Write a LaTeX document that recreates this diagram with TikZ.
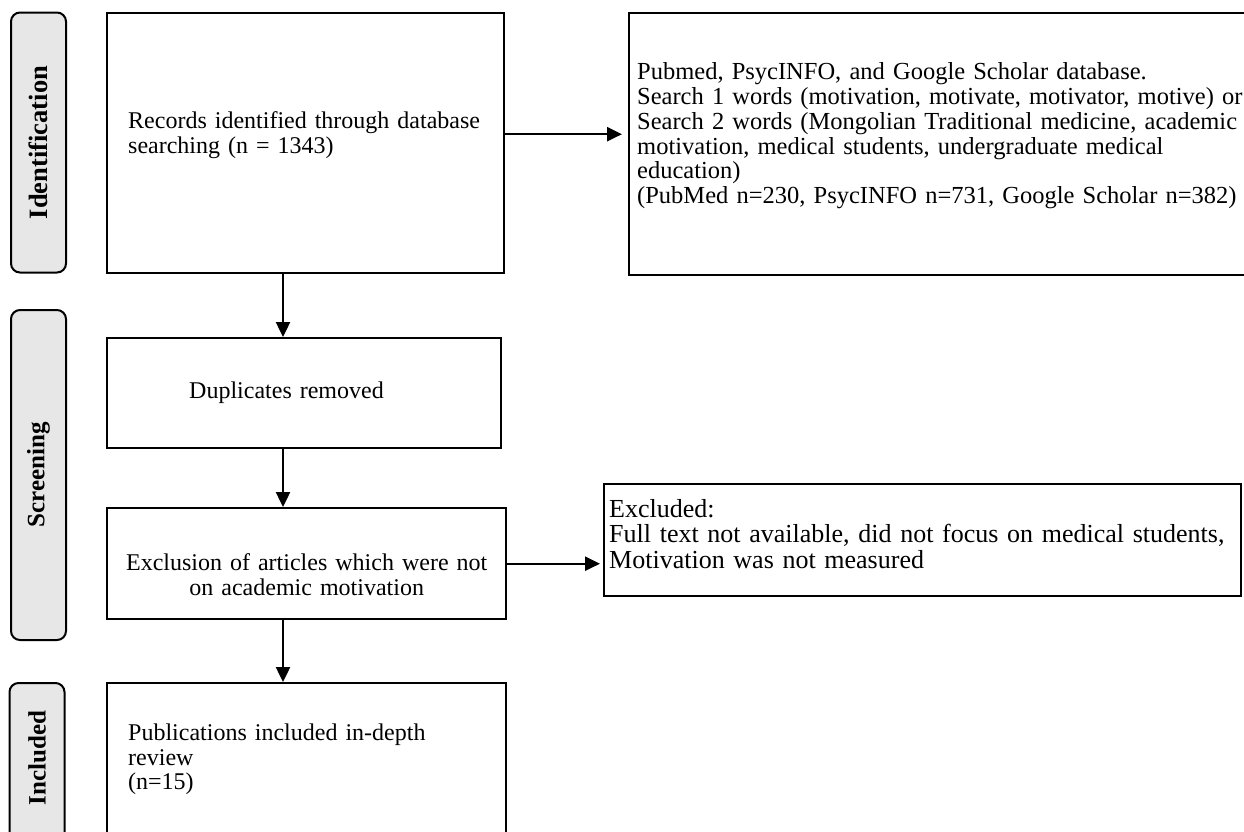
\documentclass[tikz,border=0pt]{standalone}
\usepackage{fontspec}
\setmainfont{Liberation Serif}
\usetikzlibrary{arrows.meta}
\definecolor{stagegray}{RGB}{231,231,231}

\begin{document}
\begin{tikzpicture}[
  x=1pt, y=-1pt,
  font=\fontsize{24}{24.8}\selectfont,
  stage/.style={draw, line width=2pt, rounded corners=9pt, fill=stagegray, rotate=90,
    minimum height=55pt, inner sep=0pt, font=\fontsize{25}{25}\selectfont\bfseries},
  box/.style={draw, line width=2.4pt, inner ysep=0pt, inner xsep=21pt, align=left, anchor=north west},
  arr/.style={-{Triangle[length=15pt, width=14pt]}, line width=2.4pt}
]
\useasboundingbox (0,0) rectangle (1244,831);
\clip (0,0) rectangle (1244,831);
% phase bars
\node[stage, minimum width=260pt, font=\fontsize{26.5}{26}\selectfont\bfseries] (ident) at (38.5,142.5) {Identification};
\node[stage, minimum width=330pt] (screen) at (38.5,475) {Screening};
\node[stage, minimum width=170pt] (incl) at (37,768) {\hspace*{20pt}Included};
% flow boxes
\node[box, text width=355pt, minimum height=260pt, text height=17pt, text depth=47pt] (rec) at (106,12)
  {Records identified through database\\searching (n = 1343)};
\node[box, inner xsep=8pt, text width=620pt, minimum height=262pt, text height=17pt, text depth=146pt,
  font=\fontsize{24.5}{24.8}\selectfont] (search) at (628,12)
  {Pubmed, PsycINFO, and Google Scholar database.\\
   Search 1 words (motivation, motivate, motivator, motive) or\\
   Search 2 words (Mongolian Traditional medicine, academic\\
   motivation, medical students, undergraduate medical\\
   education)\\
   (PubMed n=230, PsycINFO n=731, Google Scholar n=382)};
\node[box, inner xsep=82pt, text width=230pt, minimum height=110pt] (dup) at (106,337) {Duplicates removed};
\node[box, inner xsep=10pt, text width=379pt, align=center, minimum height=111pt, text height=38pt, text depth=25pt] (excl) at (106,507)
  {Exclusion of articles which were not\\on academic motivation};
\node[box, inner xsep=5pt, text width=627pt, minimum height=112pt, text height=17pt, text depth=63pt,
  font=\fontsize{26}{25.5}\selectfont] (drop) at (603,483)
  {Excluded:\\Full text not available, did not focus on medical students,\\Motivation was not measured};
\node[box, text width=357pt, minimum height=152pt, text height=17pt, text depth=55pt] (pub) at (106,682)
  {Publications included in-depth\\review\\(n=15)};
% connectors
\coordinate (spine) at (283,0);
\draw[arr, shorten >=6pt] ([yshift=9pt]rec.east) -- ([yshift=9pt]rec.east -| search.west);
\draw[arr] (spine |- rec.south) -- (spine |- dup.north);
\draw[arr] (spine |- dup.south) -- (spine |- excl.north);
\draw[arr] (spine |- excl.south) -- (spine |- pub.north);
\draw[arr, shorten >=3pt] (excl.east) -- (excl.east -| drop.west);
\end{tikzpicture}
\end{document}
